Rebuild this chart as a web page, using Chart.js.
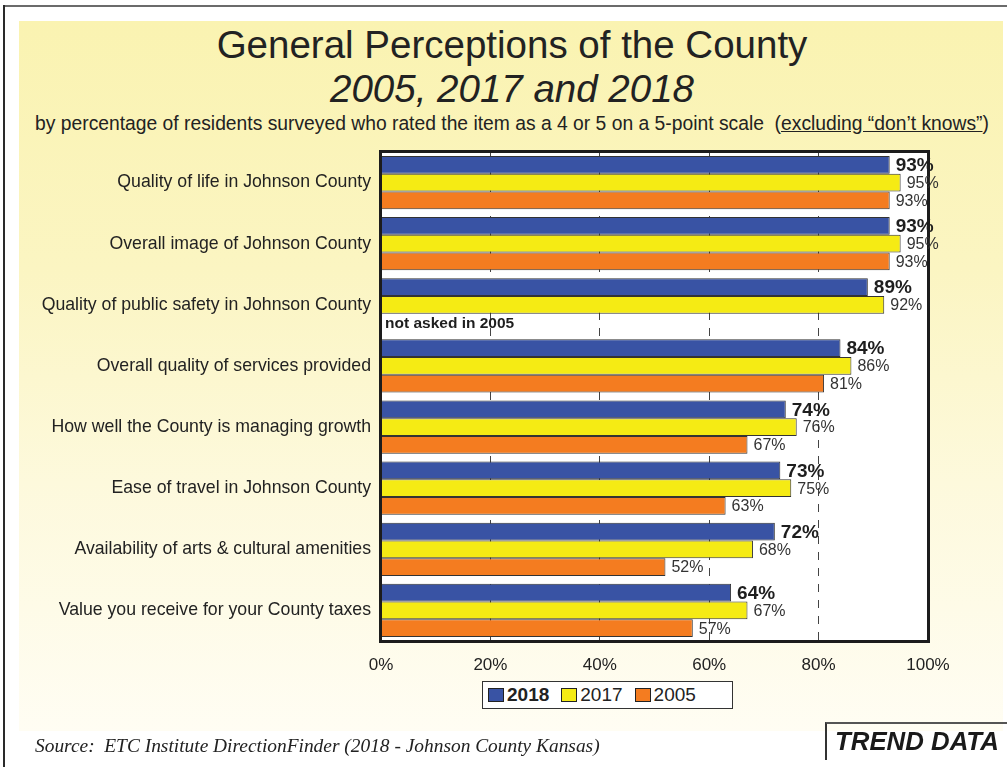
<!DOCTYPE html>
<html>
<head>
<meta charset="utf-8">
<script src="https://cdn.jsdelivr.net/npm/chart.js@4.4.1/dist/chart.umd.min.js"></script>
<style>
    body { margin: 0; background: #fff; font-family: "Liberation Sans", Arial, sans-serif; }
    #page { position: relative; width: 1007px; height: 767px; overflow: hidden; background: #fff; }
    #frame-top { position: absolute; left: 4px; top: 5px; width: 1003px; height: 2px; background: #6b6b6b; }
    #frame-left { position: absolute; left: 3px; top: 5px; width: 2px; height: 762px; background: #2a2a2a; }
    #panel {
        position: absolute; left: 19px; top: 21px; width: 984px; height: 710px;
        background: linear-gradient(#faf3b1 0%, #fbf5c2 35%, #fdf9dc 65%, #fffdf3 100%);
    }
    .head { position: absolute; left: 17px; width: 990px; text-align: center; color: #222; white-space: nowrap; }
    #title1 { top: 26px; font-size: 38.5px; line-height: 38px; }
    #title2 { top: 70px; font-size: 38.5px; line-height: 38px; font-style: italic; }
    #subtitle { top: 114px; font-size: 19.3px; line-height: 19px; }
    #chart { position: absolute; left: 0; top: 0; }
    #legend {
        position: absolute; left: 482px; top: 681px; width: 251px; height: 28px;
        box-sizing: border-box; border: 1px solid #333; background: #fff;
        display: flex; align-items: center; padding-left: 5px;
        font-size: 19px; color: #222;
    }
    #legend .sw { width: 16px; height: 14px; box-sizing: border-box; border: 1px solid #222; margin-right: 3px; }
    #legend .item { display: flex; align-items: center; margin-right: 12px; }
    #source {
        position: absolute; left: 35px; top: 735px; font-family: "Liberation Serif", "Times New Roman", serif;
        font-style: italic; font-size: 19.4px; color: #222; white-space: nowrap;
    }
    #trend {
        position: absolute; left: 825px; top: 722px; width: 200px; height: 38px;
        border-left: 2px solid #333; border-top: 2px solid #555;
        font-size: 25.8px; font-weight: bold; font-style: italic; color: #1a1a1a;
        padding-left: 8px; line-height: 34px; box-sizing: border-box;
    }
</style>
</head>
<body>
<div id="page">
    <div id="frame-top"></div>
    <div id="frame-left"></div>
    <div id="panel"></div>
    <div class="head" id="title1">General Perceptions of the County</div>
    <div class="head" id="title2">2005, 2017 and 2018</div>
    <div class="head" id="subtitle">by percentage of residents surveyed who rated the item as a 4 or 5 on a 5-point scale&nbsp;&nbsp;(<u>excluding “don’t knows”</u>)</div>
    <canvas id="chart" width="1007" height="767"></canvas>
    <div id="legend"></div>
    <div id="source">Source:&nbsp; ETC Institute DirectionFinder (2018 - Johnson County Kansas)</div>
    <div id="trend">TREND DATA</div>
</div>
<script>
// หมวดหมู่ (แต่ละแถวของกราฟ)
const categories = [
    'Quality of life in Johnson County',
    'Overall image of Johnson County',
    'Quality of public safety in Johnson County',
    'Overall quality of services provided',
    'How well the County is managing growth',
    'Ease of travel in Johnson County',
    'Availability of arts & cultural amenities',
    'Value you receive for your County taxes'
];

// ค่าร้อยละของแต่ละปี
const values2018 = [93, 93, 89, 84, 74, 73, 72, 64];
const values2017 = [95, 95, 92, 86, 76, 75, 68, 67];
const values2005 = [93, 93, null, 81, 67, 63, 52, 57];

const seriesNames = ['2018', '2017', '2005'];
const seriesColors = ['#3953a4', '#f5eb14', '#f47c20'];

// แกน x
const xTicks = [0, 20, 40, 60, 80, 100];

// ข้อความแทนแท่งที่ไม่มีข้อมูลปี 2005
const notes2005 = [null, null, 'not asked in 2005', null, null, null, null, null];

const FONT = '"Liberation Sans", Arial, sans-serif';

// พื้นหลังสีขาวของพื้นที่กราฟ
const plotBackground = {
    id: 'plotBackground',
    beforeDraw(chart) {
        const { ctx, chartArea: a } = chart;
        ctx.save();
        ctx.fillStyle = '#fff';
        ctx.fillRect(a.left, a.top, a.right - a.left, a.bottom - a.top);
        ctx.restore();
    }
};

// กรอบ + ตัวเลขท้ายแท่ง
const barLabels = {
    id: 'barLabels',
    afterDatasetsDraw(chart) {
        const { ctx, chartArea: a } = chart;
        ctx.save();
        ctx.strokeStyle = '#1c1c1c';
        ctx.lineWidth = 3;
        ctx.strokeRect(a.left - 0.5, a.top - 0.5, a.right - a.left + 1, a.bottom - a.top + 1);

        ctx.textBaseline = 'middle';
        ctx.textAlign = 'left';
        chart.data.datasets.forEach((ds, i) => {
            const meta = chart.getDatasetMeta(i);
            meta.data.forEach((bar, j) => {
                const v = ds.data[j];
                if (v === null) return;
                ctx.font = i === 0 ? 'bold 19px ' + FONT : '16px ' + FONT;
                ctx.fillStyle = i === 0 ? '#1e1e1e' : '#333';
                ctx.fillText(v + '%', bar.x + 6, bar.y + 1);
            });
        });

        // แถวที่ไม่ได้ถามในปี 2005
        const meta2017 = chart.getDatasetMeta(1);
        notes2005.forEach((note, j) => {
            if (!note) return;
            const bar = meta2017.data[j];
            ctx.font = 'bold 15.5px ' + FONT;
            ctx.fillStyle = '#1e1e1e';
            ctx.fillText(note, a.left + 4, bar.y + bar.height + 1);
        });
        ctx.restore();
    }
};

const datasets = [values2018, values2017, values2005].map((vals, i) => ({
    label: seriesNames[i],
    data: vals,
    backgroundColor: seriesColors[i],
    borderColor: '#333',
    borderWidth: 1,
    borderSkipped: 'start',
    categoryPercentage: 0.87,
    barPercentage: 1.0
}));

new Chart(document.getElementById('chart'), {
    type: 'bar',
    data: { labels: categories, datasets: datasets },
    options: {
        indexAxis: 'y',
        responsive: false,
        animation: false,
        devicePixelRatio: 1,
        layout: { padding: { top: 152, right: 79, bottom: 86, left: 0 } },
        scales: {
            x: {
                min: 0,
                max: 100,
                afterFit: scale => { scale.height = 40; },
                afterBuildTicks: scale => { scale.ticks = xTicks.map(v => ({ value: v })); },
                ticks: {
                    callback: v => v + '%',
                    font: { family: FONT, size: 17 },
                    color: '#222',
                    padding: 14,
                    maxRotation: 0
                },
                grid: {
                    drawTicks: false,
                    color: ctx => (ctx.tick && (ctx.tick.value === 0 || ctx.tick.value === 100)) ? 'rgba(0,0,0,0)' : '#444',
                    lineWidth: 1
                },
                border: { display: false, dash: [8, 8] }
            },
            y: {
                afterFit: scale => { scale.width = 381; },
                ticks: {
                    font: { family: FONT, size: 17.7 },
                    color: '#222',
                    padding: 10
                },
                grid: { display: false, drawTicks: false },
                border: { display: false }
            }
        },
        plugins: {
            legend: { display: false },
            tooltip: { enabled: false }
        }
    },
    plugins: [plotBackground, barLabels]
});

// คำอธิบายสัญลักษณ์ (ปี 2018 ตัวหนา)
const legend = document.getElementById('legend');
seriesNames.forEach((name, i) => {
    const item = document.createElement('div');
    item.className = 'item';
    item.innerHTML = `<span class="sw" style="background:${seriesColors[i]}"></span>` +
        `<span style="font-weight:${i === 0 ? 'bold' : 'normal'}">${name}</span>`;
    legend.appendChild(item);
});
</script>
</body>
</html>
